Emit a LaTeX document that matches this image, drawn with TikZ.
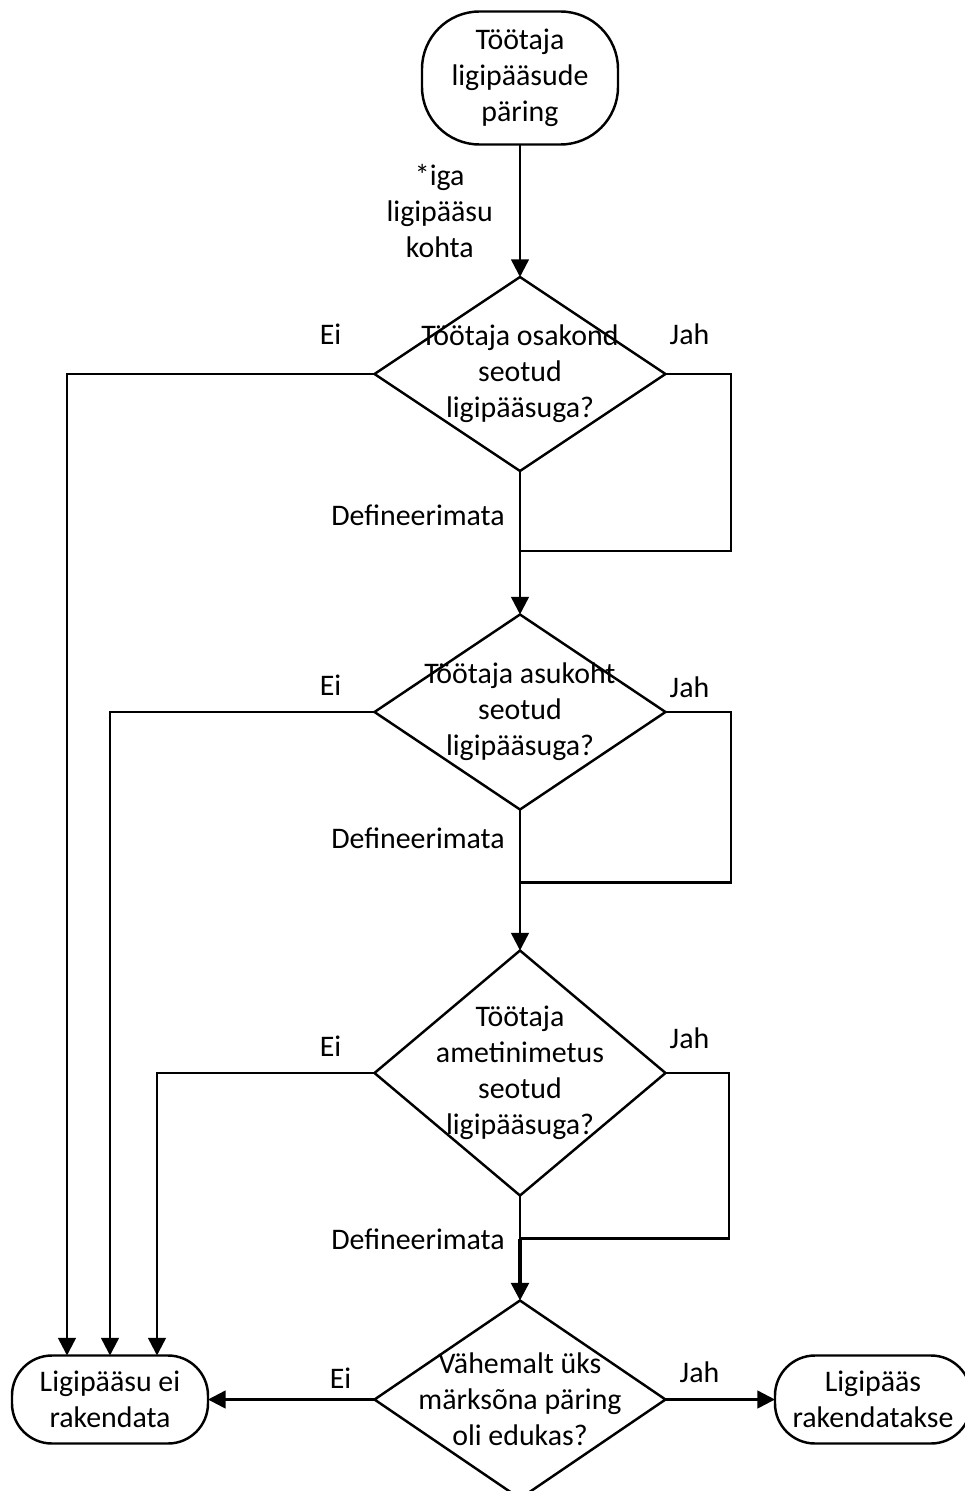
\documentclass[tikz,border=0pt]{standalone}
\usepackage{fontspec}
\setmainfont{Carlito}
\usetikzlibrary{shapes, arrows.meta, positioning, calc}

\begin{document}
\begin{tikzpicture} [-> , >= {Triangle[length=10pt, width=10pt]}, line width = 1.4pt, node distance = 6cm, font = \fontsize{17}{20.5}\selectfont,
  term/.style = {draw, rectangle, minimum width = 3.92cm, inner sep = 0pt, outer sep = 0pt, align = center},
  decision/.style = {draw, diamond, minimum width = 5.82cm, inner sep = 0pt, outer sep = 0pt}]

\useasboundingbox (-10.4,1.56) rectangle (8.88,-28.26);

\node [term, minimum height = 2.66cm, rounded corners = 1.15cm] (start) {Töötaja\\ligipääsude\\päring};
\node [decision, minimum height = 3.88cm, node distance = 5.92cm, below of = start, label = {[align=center]center:{Töötaja osakond\\seotud\\ligipääsuga?}}] (d1) {};
\node [decision, minimum height = 3.9cm, node distance = 6.76cm, below of = d1, label = {[align=center]center:{Töötaja asukoht\\seotud\\ligipääsuga?}}] (d2) {};
\node [decision, minimum height = 4.9cm, node distance = 7.22cm, below of = d2, label = {[align=center]center:{Töötaja\\ametinimetus\\seotud\\ligipääsuga?}}] (d3) {};
\node [decision, minimum height = 3.96cm, node distance = 6.53cm, below of = d3, label = {[align=center]center:{Vähemalt üks\\märksõna päring\\oli edukas?}}] (d4) {};
\node [term, minimum height = 1.76cm, rounded corners = 0.8cm, node distance = 8.2cm, left of = d4] (fail) {Ligipääsu ei\\rakendata};
\node [term, minimum height = 1.76cm, rounded corners = 0.8cm, node distance = 7.06cm, right of = d4] (succ) {Ligipääs\\rakendatakse};

\coordinate (m1) at ($(d1.south)+(0,-1.6)$);
\coordinate (m2) at ($(d2.south)+(0,-1.46)$);
\coordinate (m3) at ($(d3.south)+(0,-0.86)$);

\path (start) edge node [left = 0.4cm, align = center] {*iga\\ligipääsu\\kohta} (d1);
\path (d1) edge (d2);
\path (d2) edge (d3);
\draw [-] (d3) -- (m3);
\path (m3) edge [line width = 2pt] (d4);
\path (d4) edge (fail);
\path (d4) edge (succ);

\draw (d1.west) -| ([xshift=-0.86cm]fail.north);
\draw (d2.west) -| (fail.north);
\draw (d3.west) -| ([xshift=0.94cm]fail.north);

\draw [-] (d1.east) -| ($(m1)+(4.22,0)$) -- (m1);
\draw [-] (d2.east) -| ($(m2)+(4.22,0)$) -- (m2);
\draw [-] (d3.east) -| ($(m3)+(4.18,0)$) -- (m3);

\node (ei1) at ($(d1.west)+(-0.88,0.8)$) {Ei};
\node (jah1) at ($(d1.east)+(0.48,0.8)$) {Jah};
\node (def1) at ($(d1.south)+(-2.04,-0.88)$) {Defineerimata};
\node (ei2) at ($(d2.west)+(-0.88,0.54)$) {Ei};
\node (jah2) at ($(d2.east)+(0.48,0.5)$) {Jah};
\node (def2) at ($(d2.south)+(-2.04,-0.58)$) {Defineerimata};
\node (ei3) at ($(d3.west)+(-0.88,0.54)$) {Ei};
\node (jah3) at ($(d3.east)+(0.48,0.7)$) {Jah};
\node (def3) at ($(d3.south)+(-2.04,-0.88)$) {Defineerimata};
\node (ei4) at ($(d4.west)+(-0.68,0.42)$) {Ei};
\node (jah4) at ($(d4.east)+(0.68,0.54)$) {Jah};

\end{tikzpicture}
\end{document}
